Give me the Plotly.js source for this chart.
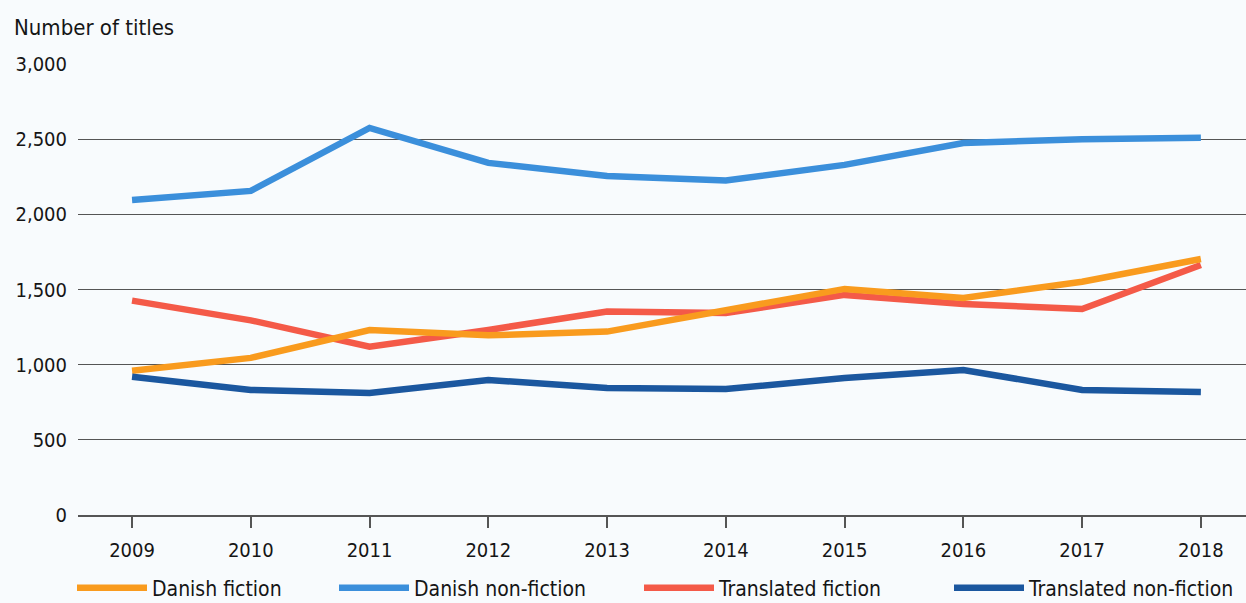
<!DOCTYPE html>
<html>
<head>
<meta charset="utf-8">
<script src="https://cdn.plot.ly/plotly-3.0.1.min.js"></script>
<style>html,body{margin:0;padding:0;background:#f8fbfd;}#chart{width:1246px;height:603px;}</style>
</head>
<body>
<div id="chart"></div>
<script>
const years = [2009, 2010, 2011, 2012, 2013, 2014, 2015, 2016, 2017, 2018];
const danishFiction = [960, 1045, 1230, 1195, 1220, 1364, 1504, 1444, 1552, 1703];
const danishNonFiction = [2096, 2156, 2575, 2342, 2255, 2225, 2329, 2475, 2500, 2510];
const translatedFiction = [1426, 1295, 1120, 1231, 1353, 1344, 1464, 1404, 1370, 1663];
const translatedNonFiction = [920, 832, 812, 898, 845, 838, 911, 965, 832, 818];
const seriesNames = ["Danish fiction", "Danish non-fiction", "Translated fiction", "Translated non-fiction"];
const yTicks = [0, 500, 1000, 1500, 2000, 2500, 3000];

const colors = ["#f99b1e", "#3b8fdb", "#f45a48", "#1b579f"];
const dataSets = [danishFiction, danishNonFiction, translatedFiction, translatedNonFiction];
const legendIds = ["legend", "legend2", "legend3", "legend4"];
const drawOrder = [1, 2, 0, 3];
const traces = drawOrder.map(i => ({
  x: years, y: dataSets[i], name: seriesNames[i], type: "scatter", mode: "lines",
  line: {color: colors[i], width: 6.5}, legend: legendIds[i]
}));

const font = "'DejaVu Sans Condensed', 'DejaVu Sans', sans-serif";
const legendStarts = [78, 340, 645, 955];
function legendAt(px) {
  return {orientation: "h", xref: "container", yref: "container",
          x: (px - 6) / 1246, xanchor: "left", y: 15 / 603, yanchor: "middle",
          font: {family: font, size: 21, color: "#151515"}, bgcolor: "rgba(0,0,0,0)", itemwidth: 70};
}
const layout = {
  width: 1246, height: 603,
  paper_bgcolor: "#f8fbfd", plot_bgcolor: "#f8fbfd",
  margin: {l: 78, r: 0, t: 64, b: 88, autoexpand: false},
  font: {family: font, size: 20, color: "#151515"},
  title: {text: "Number of titles", x: 14/1246, xanchor: "left", xref: "container",
          y: 1 - 27/603, yanchor: "middle", yref: "container",
          font: {family: font, size: 22, color: "#151515"}},
  xaxis: {range: [2008.545, 2018.38], tickvals: years, ticktext: years.map(String),
          showgrid: false, zeroline: false, showline: true, linecolor: "#555", linewidth: 1.5,
          ticks: "outside", ticklen: 11, tickwidth: 1.5, tickcolor: "#555", ticklabelstandoff: 5},
  yaxis: {range: [0, 3000], tickvals: yTicks, ticktext: yTicks.map(v => v.toLocaleString("en-US")),
          showgrid: true, gridcolor: "#555", gridwidth: 1.4, zeroline: false,
          ticks: "", ticklabelstandoff: 10},
  showlegend: true
};
legendIds.forEach((id, i) => { layout[id] = legendAt(legendStarts[i]); });
Plotly.newPlot("chart", traces, layout, {displayModeBar: false});
</script>
</body>
</html>
